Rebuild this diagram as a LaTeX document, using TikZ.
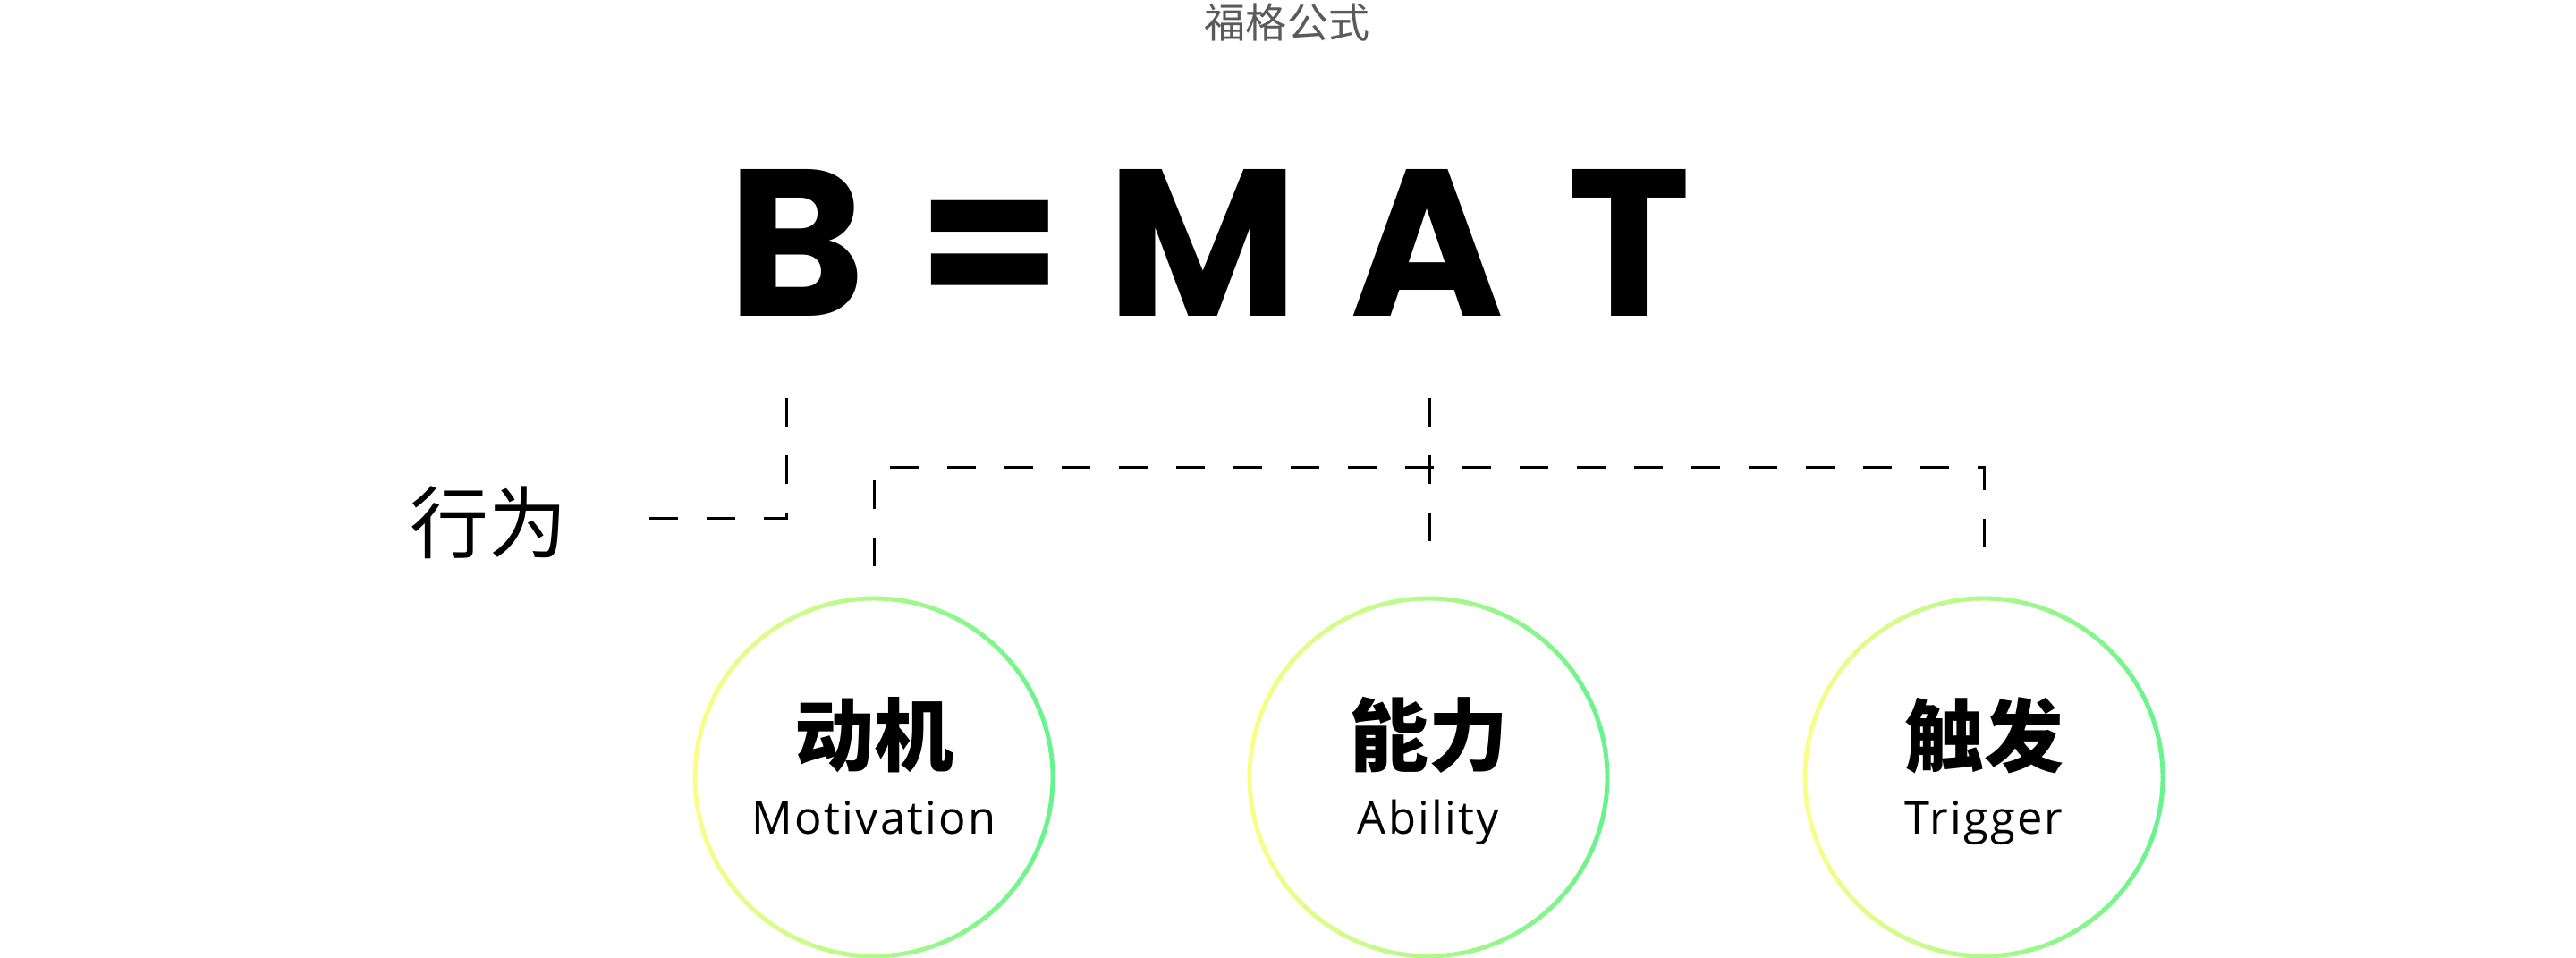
\documentclass[tikz,border=0pt]{standalone}
\usepackage{fontspec}
\setmainfont{Open Sans}[LetterSpace=4.5]
\newfontfamily\cjk{Noto Sans CJK SC}
\newfontfamily\heavy{Poppins}
\usetikzlibrary{positioning}
\definecolor{ringyellow}{HTML}{FAFE88}
\definecolor{ringgreen}{HTML}{66F48C}
\definecolor{titlegray}{HTML}{5A5A5A}

% ring with a left-to-right colour blend
\newcommand\gradring[1]{%
  \foreach \ang in {0,4,...,356}{%
    \pgfmathsetmacro\pct{50*(1+cos(\ang+2))}%
    \draw[line width=1.4pt, draw=ringgreen!\pct!ringyellow] (#1.center) ++(\ang:2cm)
      arc[start angle=\ang, end angle=\ang+4.6, radius=2cm];
  }}

\begin{document}
\begin{tikzpicture}[
    letter/.style={anchor=base, font=\heavy\bfseries\fontsize{66.5}{70}\selectfont},
    dashline/.style={line width=0.85pt, dash pattern=on 0.32cm off 0.32cm},
    ring/.style={circle, minimum size=4cm, draw=none},
    cnlabel/.style={font=\cjk\bfseries\fontsize{25.3}{28}\selectfont},
    enlabel/.style={anchor=base, font=\fontsize{14.4}{16}\selectfont}]
  \useasboundingbox (0,0) rectangle (28.8,10.71);

    \node (title) [text=titlegray, font=\cjk\fontsize{13.1}{15}\selectfont] at (14.39,10.46) {福格公式};

    \node (lB) [letter] at (8.91,7.17) {B};
    \node (lEq) [letter] at (11.07,7.17) {=};
    \node (lM) [letter] at (13.45,7.17) {M};
    \node (lA) [letter] at (15.96,7.17) {A};
    \node (lT) [letter] at (18.22,7.17) {T};

    \node (act) [font=\cjk\fontsize{25}{28}\selectfont] at (5.46,4.87) {行为};

    \node (c1) [ring] at (9.77,2.02) {};
    \node (c2) [ring] at (15.97,2.02) {};
    \node (c3) [ring] at (22.18,2.02) {};
    \gradring{c1}
    \gradring{c2}
    \gradring{c3}

    \node (m1) [cnlabel] at (9.77,2.49) {动机};
    \node (m2) [enlabel] at (9.77,1.38) {Motivation};
    \node (a1) [cnlabel] at (15.97,2.49) {能力};
    \node (a2) [enlabel] at (15.97,1.38) {Ability};
    \node (t1) [cnlabel] at (22.18,2.49) {触发};
    \node (t2) [enlabel] at (22.18,1.38) {Trigger};

    \coordinate (b0) at (8.79,6.26);
    \coordinate (b1) at (6.99,4.91);
    \coordinate (a0) at (15.98,6.26);
    \coordinate (a1) at (15.98,4.38);
    \coordinate (p1) at (9.77,4.38);
    \coordinate (pr) at (22.18,5.48);
    \coordinate (p3) at (22.18,4.38);

  \draw [dashline] (b0) |- (b1);
  \draw [dashline] (a0) -- (a1);
  \draw [dashline] (p1) |- (pr) -- (p3);
\end{tikzpicture}
\end{document}
